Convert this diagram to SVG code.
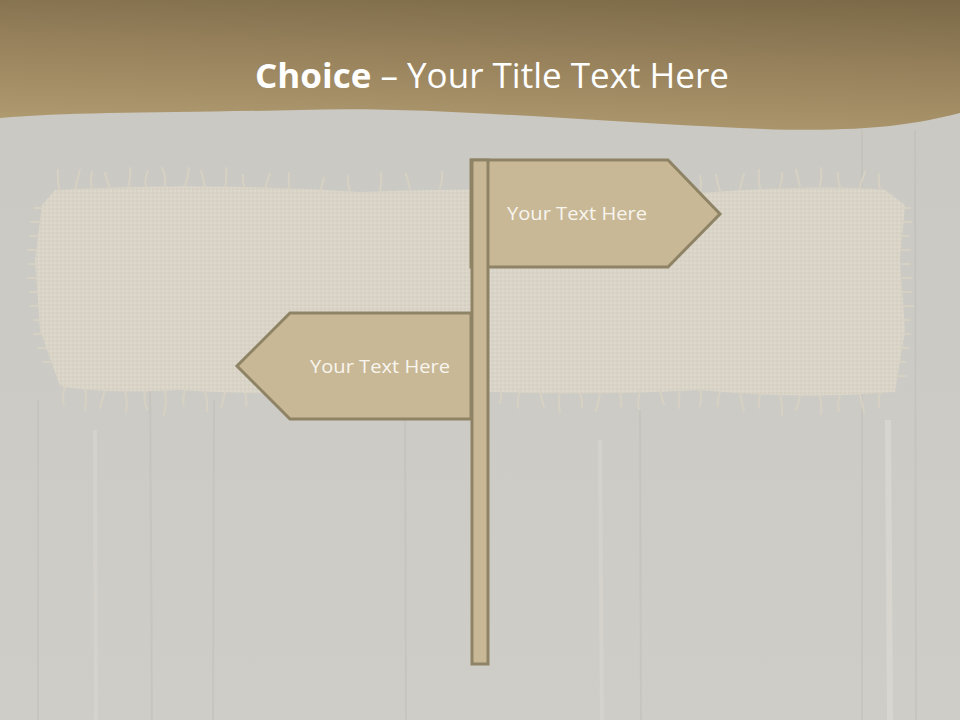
<svg xmlns="http://www.w3.org/2000/svg" width="960" height="720" viewBox="0 0 960 720">
<defs>
<linearGradient id="hdr" x1="0" y1="1" x2="0.35" y2="-0.4">
<stop offset="0" stop-color="#b39d72"/>
<stop offset="0.5" stop-color="#947f5a"/>
<stop offset="1" stop-color="#6e5e3e"/>
</linearGradient>
<linearGradient id="bg" x1="0" y1="0" x2="0" y2="1">
<stop offset="0" stop-color="#c9c8c2"/>
<stop offset="1" stop-color="#cfcdc8"/>
</linearGradient>
<pattern id="weave" width="4" height="4" patternUnits="userSpaceOnUse">
<rect width="4" height="4" fill="#d9d4c7"/>
<rect width="2" height="2" fill="#d5d0c2"/>
<rect x="2" y="2" width="2" height="2" fill="#dcd8cc"/>
</pattern>
<style>
.sign{fill:#c8b896;stroke:#8f8366;stroke-width:3;stroke-linejoin:miter}
.lbl{font-family:"Open Sans","Liberation Sans",sans-serif;font-size:18px;fill:#f8f5ee}
.ttl{font-family:"Open Sans","Liberation Sans",sans-serif;font-size:34px;fill:#ffffff}
.grain{stroke:#b9b6ae;stroke-width:2;opacity:0.3}
.fr{stroke:#d8d2c3;stroke-width:2;fill:none;stroke-linecap:round;opacity:0.9}
</style>
</defs>
<g id="background">
<rect width="960" height="720" fill="url(#bg)"/>
<line class="grain" x1="38" y1="400" x2="38" y2="720"/>
<line class="grain" x1="150" y1="380" x2="152" y2="720"/>
<line class="grain" x1="214" y1="400" x2="213" y2="720"/>
<line class="grain" x1="405" y1="420" x2="406" y2="720"/>
<line class="grain" x1="640" y1="410" x2="641" y2="720"/>
<line class="grain" x1="862" y1="130" x2="862" y2="720"/>
<line class="grain" x1="915" y1="130" x2="916" y2="720"/>
<line stroke="#e2dfd8" stroke-width="6" opacity="0.5" x1="888" y1="420" x2="890" y2="720"/>
<line stroke="#e2dfd8" stroke-width="4" opacity="0.35" x1="600" y1="440" x2="602" y2="720"/>
<line stroke="#e2dfd8" stroke-width="4" opacity="0.35" x1="95" y1="430" x2="96" y2="720"/>
</g>
<g id="cloth">
<path d="M55,190 Q200,182 360,192 Q520,186 700,193 Q820,184 885,190 L905,205 L900,260 L905,330 L895,392 Q800,400 700,390 Q560,398 420,388 Q300,398 180,390 Q100,394 60,386 L40,330 L35,260 L42,205 Z" fill="url(#weave)"/>
<path class="fr" d="M60,192 q-3,-10 -2,-22 M75,190 q2,-10 5,-20 M92,190 q-2,-10 0,-18 M110,189 q-3,-9 -5,-16 M128,188 q3,-10 2,-20 M146,187 q-2,-8 2,-16 M165,186 q1,-10 -3,-18 M185,186 q3,-8 4,-18 M205,187 q-2,-10 -4,-16 M225,188 q2,-9 1,-20 M245,189 q-3,-9 -2,-14 M265,190 q2,-10 5,-16 M290,191 q-2,-9 -1,-18 M320,192 q2,-8 4,-14 M350,192 q-3,-9 -2,-16 M380,191 q2,-10 1,-18 M410,189 q-2,-8 -4,-15 M440,188 q3,-9 2,-16 M700,192 q2,-9 0,-16 M720,191 q-3,-9 -4,-16 M740,189 q2,-9 4,-15 M760,188 q-2,-9 -1,-18 M780,187 q3,-9 2,-14 M800,186 q-2,-8 -4,-16 M820,186 q2,-10 1,-18 M840,187 q-3,-8 -2,-14 M860,188 q2,-9 5,-16 M880,189 q-2,-8 -1,-15"/>
<path class="fr" d="M65,386 q-3,10 -1,18 M85,388 q2,10 0,22 M105,390 q-3,10 -5,18 M125,390 q3,12 1,22 M145,391 q-2,10 2,18 M165,391 q2,12 -1,24 M185,390 q-3,9 -1,16 M205,391 q3,11 2,20 M225,392 q-2,10 -4,16 M245,392 q2,10 1,14 M500,389 q2,9 0,14 M520,390 q-3,10 -2,18 M540,391 q2,10 4,16 M560,392 q-2,10 0,20 M580,393 q3,9 2,14 M600,393 q-2,11 -4,18 M620,392 q2,10 1,14 M640,391 q-3,10 -1,18 M660,390 q2,9 4,14 M680,390 q-2,10 -1,18 M700,390 q2,11 0,16 M720,392 q-3,9 -2,14 M740,393 q2,10 4,18 M760,394 q-2,10 -1,14 M780,395 q3,10 2,20 M800,396 q-2,9 -4,14 M820,396 q2,11 1,18 M840,395 q-3,9 -1,16 M860,394 q2,10 4,18 M880,393 q-2,9 -1,14"/>
<path class="fr" d="M42,208 h-7 M40,222 h-9 M38,236 h-8 M37,250 h-9 M36,264 h-7 M37,278 h-9 M38,292 h-8 M39,306 h-9 M41,320 h-7 M43,334 h-9 M46,348 h-8 M50,362 h-7 M903,208 h7 M902,222 h9 M901,236 h8 M901,250 h9 M902,264 h7 M903,278 h9 M903,292 h8 M904,306 h9 M902,320 h7 M901,334 h9 M900,348 h8 M898,362 h7 M897,376 h9"/>
</g>
<g id="header">
<path d="M0,0 H960 V113 C905,127 850,133 740,128 C580,121 430,106 300,110 C160,113 70,112 0,118 Z" fill="url(#hdr)"/>
<text class="ttl" x="492" y="88" text-anchor="middle" textLength="474" lengthAdjust="spacingAndGlyphs"><tspan font-weight="bold">Choice</tspan> – Your Title Text Here</text>
</g>
<g id="connectors"></g>
<g id="sign-right">
<path class="sign" d="M471,160 H668 L720,214 L668,267 H471 Z"/>
<text class="lbl" x="507" y="220" textLength="140" lengthAdjust="spacingAndGlyphs">Your Text Here</text>
</g>
<g id="sign-left">
<path class="sign" d="M471,313 H290 L237,366 L290,419 H471 Z"/>
<text class="lbl" x="310" y="373" textLength="140" lengthAdjust="spacingAndGlyphs">Your Text Here</text>
</g>
<g id="pole">
<rect class="sign" x="472" y="160" width="16" height="504"/>
</g>
</svg>
